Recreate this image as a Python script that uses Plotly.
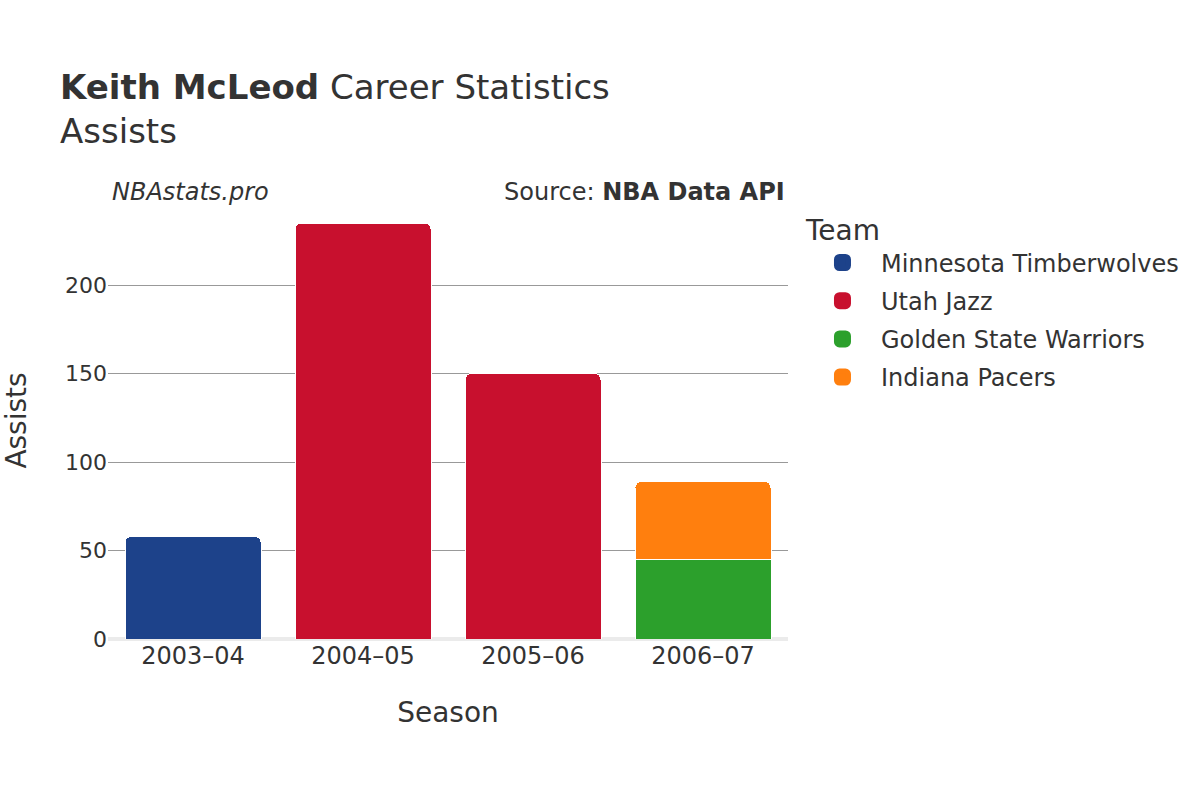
import plotly.graph_objects as go

seasons = ["2003–04", "2004–05", "2005–06", "2006–07"]
teams = ["Minnesota Timberwolves", "Utah Jazz", "Golden State Warriors", "Indiana Pacers"]
colors = ["#1D428A", "#C8102E", "#2CA02C", "#FF7F0E"]
team_seasons = [["2003–04"], ["2004–05", "2005–06"], ["2006–07"], ["2006–07"]]
team_assists = [[58], [235, 150], [45], [44]]

fig = go.Figure()
for t, c, s, v in zip(teams, colors, team_seasons, team_assists):
    fig.add_trace(go.Bar(x=s, y=v, name=t, legendgroup=t, showlegend=False,
                         marker=dict(color=c, line=dict(color="white", width=1))))
# legend entries (larger swatches)
for t, c in zip(teams, colors):
    fig.add_trace(go.Bar(x=[None], y=[None], name=t, legendgroup=t, showlegend=True,
                         marker=dict(color=c, line=dict(color=c, width=5))))

font = "DejaVu Sans"
fig.update_layout(
    barmode="stack",
    bargap=0.2,
    barcornerradius=6,
    width=1200, height=800,
    paper_bgcolor="white", plot_bgcolor="white",
    font=dict(family=font, color="#333333", size=20),
    margin=dict(l=108, r=412, t=202, b=161),
    title=dict(text="<b>Keith McLeod</b> Career Statistics<br>Assists",
               x=0.05, xanchor="left", y=0.876, yanchor="top",
               font=dict(size=34, color="#333333")),
    xaxis=dict(title=dict(text="Season", font=dict(size=28), standoff=33),
               categoryorder="array", categoryarray=seasons, automargin=False,
               tickfont=dict(size=24), showgrid=False),
    yaxis=dict(title=dict(text="Assists", font=dict(size=28), standoff=40),
               range=[0, 247], tickvals=[0, 50, 100, 150, 200], automargin=False,
               tickfont=dict(size=22), gridcolor="#999999", gridwidth=1,
               zeroline=True, zerolinecolor="#EBEBEB", zerolinewidth=4),
    legend=dict(title=dict(text="Team", font=dict(size=28)),
                font=dict(size=24), x=1.0235, xanchor="left", y=0.9954, yanchor="top",
                traceorder="grouped", tracegroupgap=4, itemwidth=67),
    annotations=[
        dict(text="<i>NBAstats.pro</i>", xref="paper", yref="paper", x=0.003, y=1.023,
             xanchor="left", yanchor="middle", showarrow=False, font=dict(size=24, color="#333333")),
        dict(text="Source: <b>NBA Data API</b>", xref="paper", yref="paper", x=0.9985, y=1.023,
             xanchor="right", yanchor="middle", showarrow=False, font=dict(size=24, color="#333333")),
    ],
)

fig.write_html("out.html", config={"displayModeBar": False},
               post_script="document.body.style.margin='0';")
